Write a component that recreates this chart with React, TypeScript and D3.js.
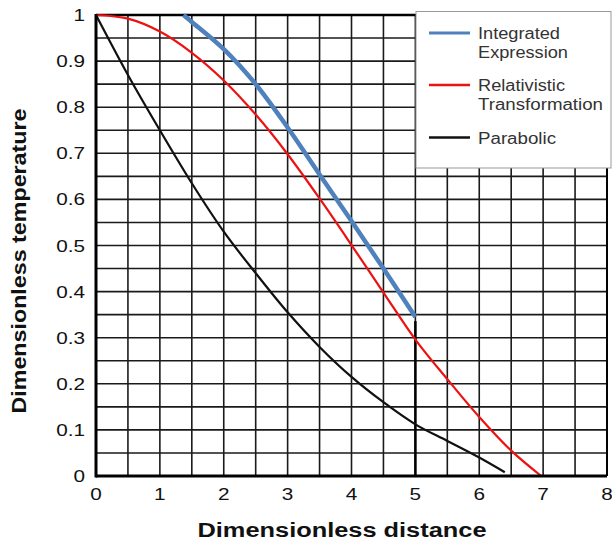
import * as d3 from 'd3';

// values
const integrated: [number, number][] = [
  [1.37, 1.0], [1.5, 0.985], [2, 0.926], [2.5, 0.85], [3, 0.756],
  [3.5, 0.654], [4, 0.553], [4.5, 0.45], [5, 0.345],
];
const relativistic: [number, number][] = [
  [0, 1.0], [0.5, 0.992], [1, 0.964], [1.5, 0.918], [2, 0.858], [2.5, 0.784],
  [3, 0.698], [3.5, 0.602], [4, 0.501], [4.5, 0.398], [5, 0.296], [5.5, 0.21],
  [6, 0.128], [6.5, 0.055], [6.97, 0],
];
const parabolic: [number, number][] = [
  [0, 1.0], [0.5, 0.87], [1, 0.75], [1.5, 0.635], [2, 0.53], [2.5, 0.44],
  [3, 0.355], [3.5, 0.28], [4, 0.215], [4.5, 0.16], [5, 0.112], [5.5, 0.076],
  [6, 0.04], [6.4, 0.008],
];
const xTicks = [0, 1, 2, 3, 4, 5, 6, 7, 8];
const yTicks = [0, 0.1, 0.2, 0.3, 0.4, 0.5, 0.6, 0.7, 0.8, 0.9, 1];
const xGrid = d3.range(0, 8.01, 0.5);
const yGrid = d3.range(0, 1.001, 0.05);
const cutoff: [number, number][] = [[5, 0.336], [5, 0]];

const legendItems = [
  { lines: ['Integrated', 'Expression'], widths: [82, 90], color: '#4f81bd', width: 3 },
  { lines: ['Relativistic', 'Transformation'], widths: [87, 125], color: '#ee1111', width: 2.5 },
  { lines: ['Parabolic'], widths: [78], color: '#111', width: 2.5 },
];

export default function App() {
  const W = 612, H = 542;
  const x = d3.scaleLinear().domain([0, 8]).range([96, 607]);
  const y = d3.scaleLinear().domain([0, 1]).range([476, 15]);
  const line = d3.line<[number, number]>().x(d => x(d[0])).y(d => y(d[1])).curve(d3.curveCatmullRom);
  const straight = d3.line<[number, number]>().x(d => x(d[0])).y(d => y(d[1]));
  const font = '"Liberation Sans", Arial, sans-serif';

  return (
    <svg width={W} height={H} style={{ position: 'absolute', left: 0, top: 0, background: '#fff' }} fontFamily={font}>
      {/* grid */}
      {xGrid.map(v => (
        <line key={'gx' + v} x1={x(v)} x2={x(v)} y1={y(0)} y2={y(1)} stroke="#1a1a1a" strokeWidth={1.6} />
      ))}
      {yGrid.map(v => (
        <line key={'gy' + v} x1={x(0)} x2={x(8)} y1={y(v)} y2={y(v)} stroke="#1a1a1a" strokeWidth={1.6} />
      ))}
      <line x1={x(0)} x2={x(8)} y1={y(1)} y2={y(1)} stroke="#000" strokeWidth={2.5} />
      <line x1={x(8)} x2={x(8)} y1={y(0)} y2={y(1)} stroke="#000" strokeWidth={2} />

      {/* curves */}
      <path d={straight(cutoff) || ''} stroke="#000" strokeWidth={2.5} fill="none" />
      <path d={line(parabolic) || ''} stroke="#111" strokeWidth={2.2} fill="none" />
      <path d={line(relativistic) || ''} stroke="#ee1111" strokeWidth={2.2} fill="none" />
      <path d={line(integrated) || ''} stroke="#4f81bd" strokeWidth={4.5} fill="none" />

      {/* axes */}
      <line x1={x(0)} x2={x(8)} y1={y(0)} y2={y(0)} stroke="#000" strokeWidth={3} />
      <line x1={x(0)} x2={x(0)} y1={y(0) + 1.5} y2={y(1) - 1} stroke="#000" strokeWidth={3} />
      {xTicks.map(v => (
        <text key={'xt' + v} transform={`translate(${x(v)},${y(0) + 24}) scale(1.22,1)`} fontSize={17}
          textAnchor="middle" fill="#111">{v}</text>
      ))}
      {yTicks.map(v => (
        <text key={'yt' + v} transform={`translate(85,${y(v) + 6}) scale(1.22,1)`} fontSize={17}
          textAnchor="end" fill="#111">{v}</text>
      ))}
      <text x={342} y={537} fontSize={20} fontWeight="bold" textAnchor="middle" fill="#111"
        textLength={289} lengthAdjust="spacingAndGlyphs">Dimensionless distance</text>
      <text transform={`translate(26,261) rotate(-90)`} fontSize={20} fontWeight="bold" textAnchor="middle" fill="#111"
        textLength={305} lengthAdjust="spacingAndGlyphs">Dimensionless temperature</text>

      {/* legend */}
      <rect x={416} y={11.5} width={195} height={156.5} fill="#fff" stroke="#999" strokeWidth={1} />
      {legendItems.map((it, i) => {
        const cy = [33, 85, 137.5][i];
        return (
          <g key={it.lines[0]}>
            <line x1={429} x2={470} y1={cy} y2={cy} stroke={it.color} strokeWidth={it.width} />
            {it.lines.map((t, j) => (
              <text key={t} x={478} y={cy + 6 + j * 19} fontSize={16} fill="#333"
                textLength={it.widths[j]} lengthAdjust="spacingAndGlyphs">{t}</text>
            ))}
          </g>
        );
      })}
    </svg>
  );
}
